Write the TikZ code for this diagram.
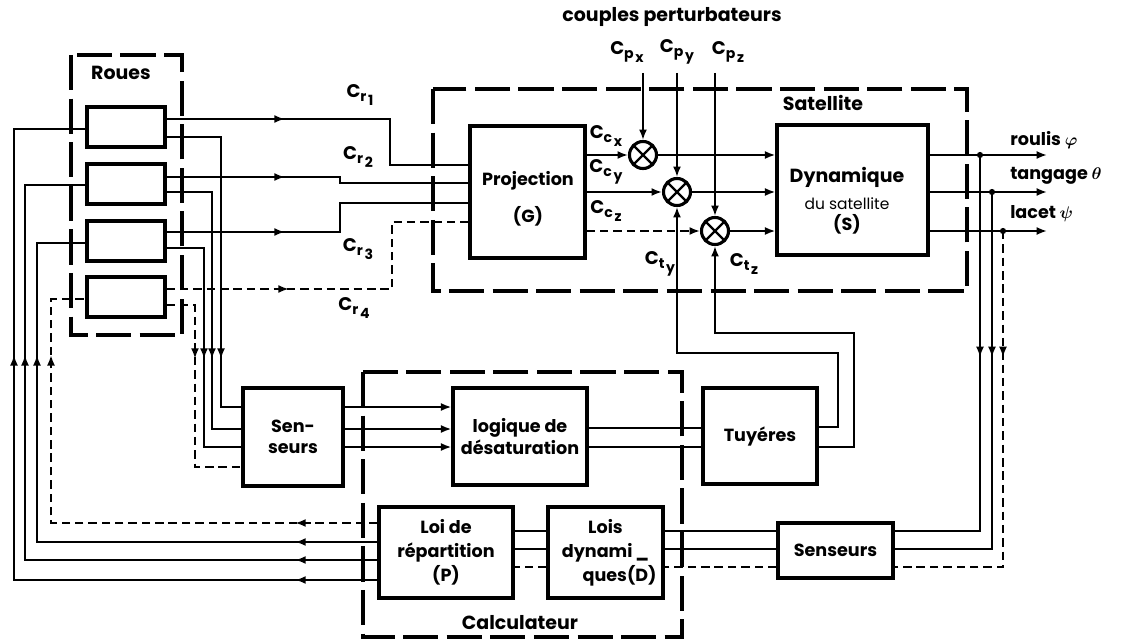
\documentclass[tikz,border=0pt]{standalone}
\usepackage{fontspec}
\setsansfont{Poppins}
\usetikzlibrary{arrows.meta, decorations.markings}
\newcommand{\pxu}{0.025cm}
\newcommand{\Cs}[2]{C{\fontsize{10}{12}\selectfont\raisebox{-0.5ex}{#1}\kern1.2pt\raisebox{-1.1ex}{#2}}}
\tikzset{
  every picture/.style={font=\sffamily},
  wh/.style 2 args={minimum width=#1*\pxu, minimum height=#2*\pxu},
  blk/.style={draw, line width=2.4pt, align=center, inner sep=0pt, font=\sffamily\bfseries\fontsize{12.5}{15}\selectfont},
  txt/.style={align=center, inner sep=0pt, font=\sffamily\bfseries\fontsize{12.5}{15}\selectfont},
  grp/.style={draw, line width=3.2pt, dash pattern=on 25pt off 6pt},
  sig/.style={line width=1.3pt},
  dsig/.style={line width=1.3pt, dash pattern=on 6pt off 3.5pt},
  arr/.style={-{Latex[length=2.6mm, width=2mm]}},
  arrat/.style={postaction={decorate, decoration={markings, mark=at position #1 with {\arrow{Latex[length=2.6mm, width=2mm]}}}}},
  sum/.style={circle, draw, line width=2.2pt, wh={27}{27}, inner sep=0pt,
    path picture={\draw[line width=1.6pt] (path picture bounding box.south west) -- (path picture bounding box.north east)
      (path picture bounding box.north west) -- (path picture bounding box.south east);}},
  lbl/.style={font=\sffamily\bfseries\fontsize{13}{15}\selectfont, inner sep=1pt},
  title/.style={font=\sffamily\bfseries\fontsize{13.5}{16}\selectfont},
  outl/.style={anchor=west, inner sep=0pt, font=\sffamily\bfseries\boldmath\fontsize{12.5}{15}\selectfont},
}
\begin{document}
\begin{tikzpicture}[x=\pxu, y=-\pxu]
\useasboundingbox (0,0) rectangle (1121,644);
% dashed groups
\draw[grp] (71,55) rectangle (182,335);
\draw[grp] (433,89) rectangle (967,291);
\draw[grp] (363,372) rectangle (682,637);
\node[title] (roues) at (121,73) {Roues};
\node[title] (satl) at (823,103) {Satellite};
\node[title] (calc) at (520,623) {Calculateur};
\node[title] (cpl) at (672,17) {couples perturbateurs};
% blocks
\foreach \i/\y in {1/127, 2/184, 3/241, 4/297}
  \node[blk, wh={78}{40}] (w\i) at (126,\y) {};
\node[blk, wh={115}{132}] (proj) at (527.5,192) {};
\node[txt] (projt) at (528,199) {Projection\\[11pt](G)};
\node[blk, wh={151}{130}] (dyn) at (852.5,190) {};
\node[txt] (dynt) at (847,201) {\fontsize{13.5}{15}\selectfont Dynamique\\[4pt]\mdseries\fontsize{11}{13}\selectfont du satellite\\(S)};
\node[blk, wh={100}{98}] (sen) at (293,437) {Sen-\\seurs};
\node[blk, wh={134}{97}] (logq) at (520,436.5) {logique de\\d\'esaturation};
\node[blk, wh={114}{96}] (tuy) at (760,436) {Tuy\'eres};
\node[blk, wh={134}{91}] (loi) at (446,552.5) {Loi de\\[2pt]r\'epartition\\[2pt](P)};
\node[blk, wh={115}{91}] (lois) at (605.5,552.5) {Lois\\[2pt]dynami\,\_\\[2pt]\hspace*{1.6em}ques(D)};
\node[blk, wh={115}{55}] (sens) at (835.5,550.5) {Senseurs};
% summing points
\node[sum] (s1) at (643,155) {};
\node[sum] (s2) at (677,192) {};
\node[sum] (s3) at (715,231) {};
% wheel torques
\draw[sig, arrat=2.95cm] (w1.east |- 0,119) -| (390,165) -- (proj.west |- 0,165);
\draw[sig, arrat=2.95cm] (w2.east |- 0,177) -| (340,183) -- (proj.west |- 0,183);
\draw[sig, arrat=2.95cm] (w3.east |- 0,232) -| (340,203) -- (proj.west |- 0,203);
\draw[dsig, arrat=3.05cm] (w4.east |- 0,289) -| (392,222) -- (proj.west |- 0,222);
\node[lbl] (cr1) at (360,95) {\Cs{r}{1}};
\node[lbl] (cr2) at (358,157) {\Cs{r}{2}};
\node[lbl] (cr3) at (358,249) {\Cs{r}{3}};
\node[lbl] (cr4) at (354,308) {\Cs{r}{4}};
% projection to summing points
\draw[sig, arr] (proj.east |- s1) -- (s1);
\draw[sig, arr] (proj.east |- s2) -- (s2);
\draw[dsig, arr] (proj.east |- s3) -- (s3);
\node[lbl] (ccx) at (606,136) {\Cs{c}{x}};
\node[lbl] (ccy) at (606,172) {\Cs{c}{y}};
\node[lbl] (ccz) at (606,211) {\Cs{c}{z}};
% disturbances
\coordinate (cpx) at (643,73);
\coordinate (cpy) at (677,73);
\coordinate (cpz) at (715,73);
\draw[sig, arr] (cpx) -- (s1);
\draw[sig, arr] (cpy) -- (s2);
\draw[sig, arr] (cpz) -- (s3);
\node[lbl] (cpxl) at (627,52) {\Cs{p}{x}};
\node[lbl] (cpyl) at (677,52) {\Cs{p}{y}};
\node[lbl] (cpzl) at (728,52) {\Cs{p}{z}};
% into the dynamics
\draw[sig, arr] (s1) -- (dyn.west |- s1);
\draw[sig, arr] (s2) -- (dyn.west |- s2);
\draw[sig, arr] (s3) -- (dyn.west |- s3);
% attitude outputs
\coordinate (oR) at (1047,155);
\coordinate (oT) at (1047,192);
\coordinate (oL) at (1047,231);
\draw[sig, arr] (dyn.east |- oR) -- (oR);
\draw[sig, arr] (dyn.east |- oT) -- (oT);
\draw[sig, arr] (dyn.east |- oL) -- (oL);
\node[outl] (roul) at (1010,140) {roulis $\varphi$};
\node[outl] (tang) at (1010,176) {tangage $\theta$};
\node[outl] (lac) at (1010,214) {lacet $\psi$};
\coordinate (jR) at (980,155);
\coordinate (jT) at (992,192);
\coordinate (jL) at (1003,231);
\foreach \j in {jR, jT, jL} \fill (\j) circle (2.2pt);
% measured attitude
\draw[sig, arrat=5.05cm] (jR) |- (sens.east |- 0,531);
\draw[sig, arrat=4.125cm] (jT) |- (sens.east |- 0,549);
\draw[dsig, arrat=3.15cm] (jL) |- (sens.east |- 0,567);
\draw[sig] (sens.west |- 0,531) -- (lois.east |- 0,531);
\draw[sig] (sens.west |- 0,549) -- (lois.east |- 0,549);
\draw[dsig] (sens.west |- 0,567) -- (lois.east |- 0,567);
\draw[sig] (lois.west |- 0,531) -- (loi.east |- 0,531);
\draw[sig] (lois.west |- 0,549) -- (loi.east |- 0,549);
\draw[dsig] (lois.west |- 0,567) -- (loi.east |- 0,567);
% wheel commands
\draw[sig, arrat=2.05cm, arrat=14.7cm] (loi.west |- 0,580) -| (14,129) -- (w1.west |- 0,129);
\draw[sig, arrat=2.05cm, arrat=13.925cm] (loi.west |- 0,560) -| (25,185) -- (w2.west |- 0,185);
\draw[sig, arrat=2.05cm, arrat=13.175cm] (loi.west |- 0,542) -| (37,243) -- (w3.west |- 0,243);
\draw[dsig, arrat=2.05cm, arrat=12.35cm] (loi.west |- 0,523) -| (51,299) -- (w4.west |- 0,299);
% wheel speeds
\draw[sig, arrat=6.9cm] (w1.east |- 0,137) -| (221,407) -- (sen.west |- 0,407);
\draw[sig, arrat=5.3cm] (w2.east |- 0,192) -| (212,429) -- (sen.west |- 0,429);
\draw[sig, arrat=3.7cm] (w3.east |- 0,248) -| (204,447) -- (sen.west |- 0,447);
\draw[dsig, arrat=2.05cm] (w4.east |- 0,305) -| (195,467) -- (sen.west |- 0,467);
% desaturation
\draw[sig, arr] (sen.east |- 0,407) -- (logq.west |- 0,407);
\draw[sig, arr] (sen.east |- 0,429) -- (logq.west |- 0,429);
\draw[sig, arr] (sen.east |- 0,447) -- (logq.west |- 0,447);
\draw[sig] (logq.east |- 0,428) -- (tuy.west |- 0,428);
\draw[sig] (logq.east |- 0,447) -- (tuy.west |- 0,447);
\draw[sig, arr] (tuy.east |- 0,427) -| (838,353) -| (s2);
\draw[sig, arr] (tuy.east |- 0,447) -| (854,333) -| (s3);
\node[lbl] (cty) at (660,264) {\Cs{t}{y}};
\node[lbl] (ctz) at (744,264) {\Cs{t}{z}};
\end{tikzpicture}
\end{document}
